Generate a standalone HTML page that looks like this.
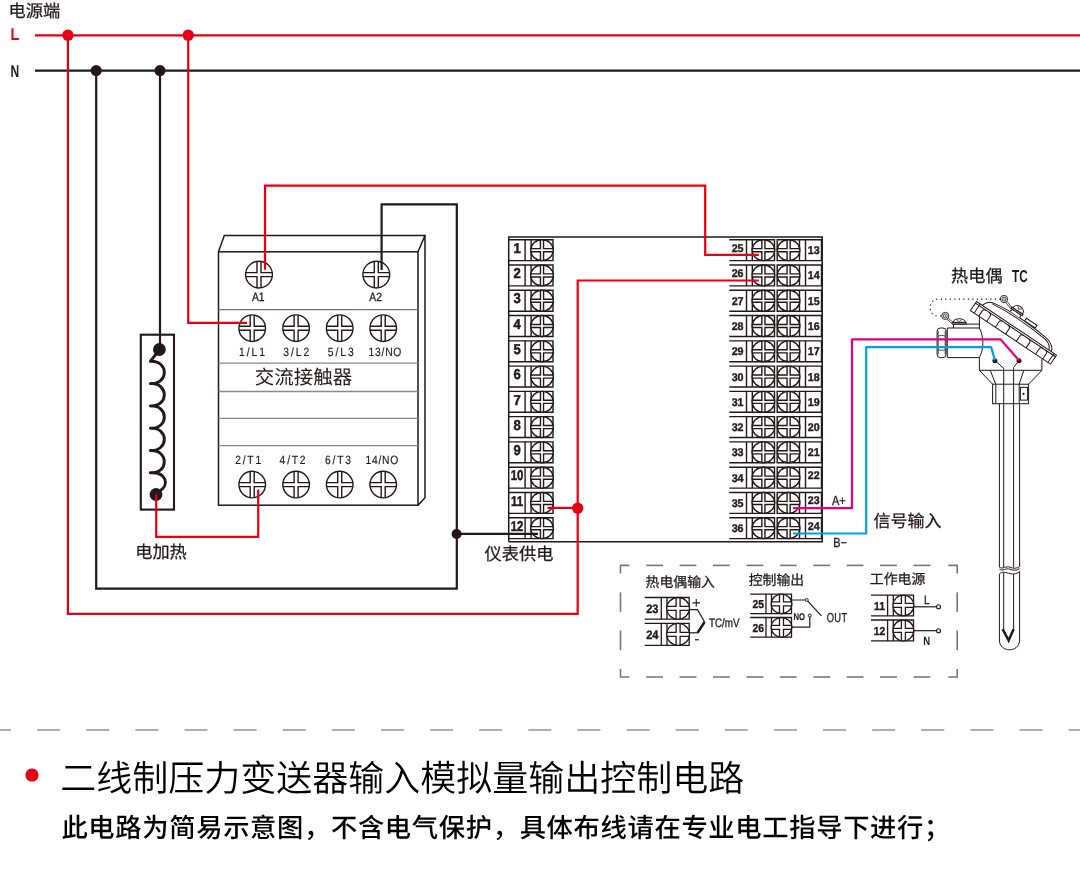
<!DOCTYPE html>
<html lang="zh-CN">
<head>
<meta charset="utf-8">
<title>二线制压力变送器输入模拟量输出控制电路</title>
<style>
html,body{margin:0;padding:0;background:#fff;}
body{width:1080px;height:869px;overflow:hidden;font-family:"Liberation Sans","Noto Sans CJK SC",sans-serif;}
svg{display:block;text-rendering:geometricPrecision;will-change:transform;}
</style>
</head>
<body>
<svg width="1080" height="869" viewBox="0 0 1080 869">
<rect width="1080" height="869" fill="#fff"/>
<path d="M218.5,251.8 L224.3,235.6 L425.0,235.6 L418.0,251.8 M425.0,235.6 L425.0,497.8 L418.0,505.2" stroke="#231815" stroke-width="1.5" fill="none" stroke-linejoin="miter"/>
<rect x="218.5" y="251.8" width="199.5" height="253.39999999999998" fill="none" stroke="#231815" stroke-width="1.5"/>
<line x1="218.5" y1="309.7" x2="418.0" y2="309.7" stroke="#7d7264" stroke-width="1.3" />
<line x1="218.5" y1="363.2" x2="418.0" y2="363.2" stroke="#898989" stroke-width="1.3" />
<line x1="218.5" y1="391.5" x2="418.0" y2="391.5" stroke="#898989" stroke-width="1.3" />
<line x1="218.5" y1="418.4" x2="418.0" y2="418.4" stroke="#898989" stroke-width="1.3" />
<line x1="218.5" y1="445.7" x2="418.0" y2="445.7" stroke="#898989" stroke-width="1.3" />
<ellipse cx="259.0" cy="274.6" rx="13.4" ry="13.4" fill="#fff" stroke="#231815" stroke-width="1.4"/>
<path d="M245.75,272.60 L257.00,272.60 L257.00,261.35 M245.75,276.60 L257.00,276.60 L257.00,287.85 M272.25,272.60 L261.00,272.60 L261.00,261.35 M272.25,276.60 L261.00,276.60 L261.00,287.85 " stroke="#231815" stroke-width="1.4" fill="none" />
<ellipse cx="376.3" cy="274.6" rx="13.4" ry="13.4" fill="#fff" stroke="#231815" stroke-width="1.4"/>
<path d="M363.05,272.60 L374.30,272.60 L374.30,261.35 M363.05,276.60 L374.30,276.60 L374.30,287.85 M389.55,272.60 L378.30,272.60 L378.30,261.35 M389.55,276.60 L378.30,276.60 L378.30,287.85 " stroke="#231815" stroke-width="1.4" fill="none" />
<ellipse cx="252.2" cy="328.2" rx="13.3" ry="13.3" fill="#fff" stroke="#231815" stroke-width="1.4"/>
<path d="M239.05,326.20 L250.20,326.20 L250.20,315.05 M239.05,330.20 L250.20,330.20 L250.20,341.35 M265.35,326.20 L254.20,326.20 L254.20,315.05 M265.35,330.20 L254.20,330.20 L254.20,341.35 " stroke="#231815" stroke-width="1.4" fill="none" />
<ellipse cx="252.2" cy="484.6" rx="13.3" ry="13.3" fill="#fff" stroke="#231815" stroke-width="1.4"/>
<path d="M239.05,482.60 L250.20,482.60 L250.20,471.45 M239.05,486.60 L250.20,486.60 L250.20,497.75 M265.35,482.60 L254.20,482.60 L254.20,471.45 M265.35,486.60 L254.20,486.60 L254.20,497.75 " stroke="#231815" stroke-width="1.4" fill="none" />
<ellipse cx="296.1" cy="328.2" rx="13.3" ry="13.3" fill="#fff" stroke="#231815" stroke-width="1.4"/>
<path d="M282.95,326.20 L294.10,326.20 L294.10,315.05 M282.95,330.20 L294.10,330.20 L294.10,341.35 M309.25,326.20 L298.10,326.20 L298.10,315.05 M309.25,330.20 L298.10,330.20 L298.10,341.35 " stroke="#231815" stroke-width="1.4" fill="none" />
<ellipse cx="296.1" cy="484.6" rx="13.3" ry="13.3" fill="#fff" stroke="#231815" stroke-width="1.4"/>
<path d="M282.95,482.60 L294.10,482.60 L294.10,471.45 M282.95,486.60 L294.10,486.60 L294.10,497.75 M309.25,482.60 L298.10,482.60 L298.10,471.45 M309.25,486.60 L298.10,486.60 L298.10,497.75 " stroke="#231815" stroke-width="1.4" fill="none" />
<ellipse cx="339.7" cy="328.2" rx="13.3" ry="13.3" fill="#fff" stroke="#231815" stroke-width="1.4"/>
<path d="M326.55,326.20 L337.70,326.20 L337.70,315.05 M326.55,330.20 L337.70,330.20 L337.70,341.35 M352.85,326.20 L341.70,326.20 L341.70,315.05 M352.85,330.20 L341.70,330.20 L341.70,341.35 " stroke="#231815" stroke-width="1.4" fill="none" />
<ellipse cx="339.7" cy="484.6" rx="13.3" ry="13.3" fill="#fff" stroke="#231815" stroke-width="1.4"/>
<path d="M326.55,482.60 L337.70,482.60 L337.70,471.45 M326.55,486.60 L337.70,486.60 L337.70,497.75 M352.85,482.60 L341.70,482.60 L341.70,471.45 M352.85,486.60 L341.70,486.60 L341.70,497.75 " stroke="#231815" stroke-width="1.4" fill="none" />
<ellipse cx="383.2" cy="328.2" rx="13.3" ry="13.3" fill="#fff" stroke="#231815" stroke-width="1.4"/>
<path d="M370.05,326.20 L381.20,326.20 L381.20,315.05 M370.05,330.20 L381.20,330.20 L381.20,341.35 M396.35,326.20 L385.20,326.20 L385.20,315.05 M396.35,330.20 L385.20,330.20 L385.20,341.35 " stroke="#231815" stroke-width="1.4" fill="none" />
<ellipse cx="383.2" cy="484.6" rx="13.3" ry="13.3" fill="#fff" stroke="#231815" stroke-width="1.4"/>
<path d="M370.05,482.60 L381.20,482.60 L381.20,471.45 M370.05,486.60 L381.20,486.60 L381.20,497.75 M396.35,482.60 L385.20,482.60 L385.20,471.45 M396.35,486.60 L385.20,486.60 L385.20,497.75 " stroke="#231815" stroke-width="1.4" fill="none" />
<text transform="translate(258.3,300.7) scale(0.86,1)" font-family='"Liberation Sans",sans-serif' font-size="12" font-weight="400" fill="#231815" text-anchor="middle" textLength="14.7" lengthAdjust="spacing" stroke="#231815" stroke-width="0.3">A1</text>
<text transform="translate(375.6,300.7) scale(0.86,1)" font-family='"Liberation Sans",sans-serif' font-size="12" font-weight="400" fill="#231815" text-anchor="middle" textLength="14.7" lengthAdjust="spacing" stroke="#231815" stroke-width="0.3">A2</text>
<text transform="translate(252.0,355.9) scale(0.86,1)" font-family='"Liberation Sans",sans-serif' font-size="12" font-weight="400" fill="#231815" text-anchor="middle" textLength="30.2" lengthAdjust="spacing" stroke="#231815" stroke-width="0.15">1/L1</text>
<text transform="translate(296.3,355.9) scale(0.86,1)" font-family='"Liberation Sans",sans-serif' font-size="12" font-weight="400" fill="#231815" text-anchor="middle" textLength="30.2" lengthAdjust="spacing" stroke="#231815" stroke-width="0.15">3/L2</text>
<text transform="translate(340.7,355.9) scale(0.86,1)" font-family='"Liberation Sans",sans-serif' font-size="12" font-weight="400" fill="#231815" text-anchor="middle" textLength="30.2" lengthAdjust="spacing" stroke="#231815" stroke-width="0.15">5/L3</text>
<text transform="translate(385.0,355.9) scale(0.86,1)" font-family='"Liberation Sans",sans-serif' font-size="12" font-weight="400" fill="#231815" text-anchor="middle" textLength="38.1" lengthAdjust="spacing" stroke="#231815" stroke-width="0.15">13/NO</text>
<text transform="translate(248.2,464.1) scale(0.86,1)" font-family='"Liberation Sans",sans-serif' font-size="12" font-weight="400" fill="#231815" text-anchor="middle" textLength="30.2" lengthAdjust="spacing" stroke="#231815" stroke-width="0.15">2/T1</text>
<text transform="translate(292.6,464.1) scale(0.86,1)" font-family='"Liberation Sans",sans-serif' font-size="12" font-weight="400" fill="#231815" text-anchor="middle" textLength="30.2" lengthAdjust="spacing" stroke="#231815" stroke-width="0.15">4/T2</text>
<text transform="translate(338.0,464.1) scale(0.86,1)" font-family='"Liberation Sans",sans-serif' font-size="12" font-weight="400" fill="#231815" text-anchor="middle" textLength="30.2" lengthAdjust="spacing" stroke="#231815" stroke-width="0.15">6/T3</text>
<text transform="translate(381.9,464.1) scale(0.86,1)" font-family='"Liberation Sans",sans-serif' font-size="12" font-weight="400" fill="#231815" text-anchor="middle" textLength="38.1" lengthAdjust="spacing" stroke="#231815" stroke-width="0.15">14/NO</text>
<text x="303.5" y="384.3" font-family='"Liberation Sans","Noto Sans CJK SC",sans-serif' font-size="19.5" font-weight="400" fill="#231815" text-anchor="middle" >交流接触器</text>
<rect x="140.8" y="334.7" width="33.2" height="174.9" fill="none" stroke="#231815" stroke-width="2.1"/>
<path d="M156.5,353.5 L150.3,361.3 C169,360.3 169,384.6 150.3,383.6 C169,382.6 169,406.9 150.3,405.9 C169,404.9 169,429.2 150.3,428.2 C169,427.2 169,451.5 150.3,450.5 C169,449.5 169,473.8 150.3,472.8 C167,472 169,485 160.5,490.5 L157,494" stroke="#231815" stroke-width="2.9" fill="none" stroke-linejoin="round" stroke-linecap="butt"/>
<circle cx="159.4" cy="349.5" r="6.4" fill="#231815" stroke="none" stroke-width="0"/>
<circle cx="156.0" cy="494.5" r="6.4" fill="#231815" stroke="none" stroke-width="0"/>
<path d="M508.7,541.8 L508.7,237.0 L822.2,237.0 L822.2,541.8 L508.7,541.8" stroke="#231815" stroke-width="1.5" fill="none" />
<path d="M508.7,239.75 L553,239.75 L553,260.65 L508.7,260.65 M525.1,239.75 L525.1,260.65 M531.1,239.75 L531.1,260.65" stroke="#231815" stroke-width="1.4" fill="none" />
<ellipse cx="542.0" cy="250.2" rx="11.3" ry="10.45" fill="#fff" stroke="#231815" stroke-width="1.4"/>
<path d="M530.82,248.65 L540.45,248.65 L540.45,239.85 M530.82,251.75 L540.45,251.75 L540.45,260.55 M553.18,248.65 L543.55,248.65 L543.55,239.85 M553.18,251.75 L543.55,251.75 L543.55,260.55 " stroke="#231815" stroke-width="1.4" fill="none" />
<text transform="translate(517.0,252.89999999999998) scale(0.92,1)" font-family='"Liberation Sans",sans-serif' font-size="14.2" font-weight="700" fill="#231815" text-anchor="middle" stroke="#231815" stroke-width="0.5">1</text>
<path d="M729.3,239.75 L774.5,239.75 L774.5,260.65 L729.3,260.65 M746.5,239.75 L746.5,260.65 M752.3,239.75 L752.3,260.65" stroke="#231815" stroke-width="1.4" fill="none" />
<ellipse cx="763.4" cy="250.2" rx="11.3" ry="10.45" fill="#fff" stroke="#231815" stroke-width="1.4"/>
<path d="M752.22,248.65 L761.85,248.65 L761.85,239.85 M752.22,251.75 L761.85,251.75 L761.85,260.55 M774.58,248.65 L764.95,248.65 L764.95,239.85 M774.58,251.75 L764.95,251.75 L764.95,260.55 " stroke="#231815" stroke-width="1.4" fill="none" />
<path d="M777.2,239.75 L821.5,239.75 L821.5,260.65 L777.2,260.65 Z M799.5,239.75 L799.5,260.65 M805.5,239.75 L805.5,260.65" stroke="#231815" stroke-width="1.4" fill="none" />
<ellipse cx="788.6" cy="250.2" rx="11.3" ry="10.45" fill="#fff" stroke="#231815" stroke-width="1.4"/>
<path d="M777.42,248.65 L787.05,248.65 L787.05,239.85 M777.42,251.75 L787.05,251.75 L787.05,260.55 M799.78,248.65 L790.15,248.65 L790.15,239.85 M799.78,251.75 L790.15,251.75 L790.15,260.55 " stroke="#231815" stroke-width="1.4" fill="none" />
<text transform="translate(737.6,251.79999999999998) scale(0.96,1)" font-family='"Liberation Sans",sans-serif' font-size="11.2" font-weight="700" fill="#231815" text-anchor="middle" stroke="#231815" stroke-width="0.35">25</text>
<text transform="translate(813.8,254.2) scale(0.96,1)" font-family='"Liberation Sans",sans-serif' font-size="11.2" font-weight="700" fill="#231815" text-anchor="middle" stroke="#231815" stroke-width="0.35">13</text>
<path d="M508.7,265.02 L553,265.02 L553,285.91999999999996 L508.7,285.91999999999996 M525.1,265.02 L525.1,285.91999999999996 M531.1,265.02 L531.1,285.91999999999996" stroke="#231815" stroke-width="1.4" fill="none" />
<ellipse cx="542.0" cy="275.46999999999997" rx="11.3" ry="10.45" fill="#fff" stroke="#231815" stroke-width="1.4"/>
<path d="M530.82,273.92 L540.45,273.92 L540.45,265.12 M530.82,277.02 L540.45,277.02 L540.45,285.82 M553.18,273.92 L543.55,273.92 L543.55,265.12 M553.18,277.02 L543.55,277.02 L543.55,285.82 " stroke="#231815" stroke-width="1.4" fill="none" />
<text transform="translate(517.0,278.16999999999996) scale(0.92,1)" font-family='"Liberation Sans",sans-serif' font-size="14.2" font-weight="700" fill="#231815" text-anchor="middle" stroke="#231815" stroke-width="0.5">2</text>
<path d="M729.3,265.02 L774.5,265.02 L774.5,285.91999999999996 L729.3,285.91999999999996 M746.5,265.02 L746.5,285.91999999999996 M752.3,265.02 L752.3,285.91999999999996" stroke="#231815" stroke-width="1.4" fill="none" />
<ellipse cx="763.4" cy="275.46999999999997" rx="11.3" ry="10.45" fill="#fff" stroke="#231815" stroke-width="1.4"/>
<path d="M752.22,273.92 L761.85,273.92 L761.85,265.12 M752.22,277.02 L761.85,277.02 L761.85,285.82 M774.58,273.92 L764.95,273.92 L764.95,265.12 M774.58,277.02 L764.95,277.02 L764.95,285.82 " stroke="#231815" stroke-width="1.4" fill="none" />
<path d="M777.2,265.02 L821.5,265.02 L821.5,285.91999999999996 L777.2,285.91999999999996 Z M799.5,265.02 L799.5,285.91999999999996 M805.5,265.02 L805.5,285.91999999999996" stroke="#231815" stroke-width="1.4" fill="none" />
<ellipse cx="788.6" cy="275.46999999999997" rx="11.3" ry="10.45" fill="#fff" stroke="#231815" stroke-width="1.4"/>
<path d="M777.42,273.92 L787.05,273.92 L787.05,265.12 M777.42,277.02 L787.05,277.02 L787.05,285.82 M799.78,273.92 L790.15,273.92 L790.15,265.12 M799.78,277.02 L790.15,277.02 L790.15,285.82 " stroke="#231815" stroke-width="1.4" fill="none" />
<text transform="translate(737.6,277.07) scale(0.96,1)" font-family='"Liberation Sans",sans-serif' font-size="11.2" font-weight="700" fill="#231815" text-anchor="middle" stroke="#231815" stroke-width="0.35">26</text>
<text transform="translate(813.8,279.46999999999997) scale(0.96,1)" font-family='"Liberation Sans",sans-serif' font-size="11.2" font-weight="700" fill="#231815" text-anchor="middle" stroke="#231815" stroke-width="0.35">14</text>
<path d="M508.7,290.29 L553,290.29 L553,311.19 L508.7,311.19 M525.1,290.29 L525.1,311.19 M531.1,290.29 L531.1,311.19" stroke="#231815" stroke-width="1.4" fill="none" />
<ellipse cx="542.0" cy="300.74" rx="11.3" ry="10.45" fill="#fff" stroke="#231815" stroke-width="1.4"/>
<path d="M530.82,299.19 L540.45,299.19 L540.45,290.39 M530.82,302.29 L540.45,302.29 L540.45,311.09 M553.18,299.19 L543.55,299.19 L543.55,290.39 M553.18,302.29 L543.55,302.29 L543.55,311.09 " stroke="#231815" stroke-width="1.4" fill="none" />
<text transform="translate(517.0,303.44) scale(0.92,1)" font-family='"Liberation Sans",sans-serif' font-size="14.2" font-weight="700" fill="#231815" text-anchor="middle" stroke="#231815" stroke-width="0.5">3</text>
<path d="M729.3,290.29 L774.5,290.29 L774.5,311.19 L729.3,311.19 M746.5,290.29 L746.5,311.19 M752.3,290.29 L752.3,311.19" stroke="#231815" stroke-width="1.4" fill="none" />
<ellipse cx="763.4" cy="300.74" rx="11.3" ry="10.45" fill="#fff" stroke="#231815" stroke-width="1.4"/>
<path d="M752.22,299.19 L761.85,299.19 L761.85,290.39 M752.22,302.29 L761.85,302.29 L761.85,311.09 M774.58,299.19 L764.95,299.19 L764.95,290.39 M774.58,302.29 L764.95,302.29 L764.95,311.09 " stroke="#231815" stroke-width="1.4" fill="none" />
<path d="M777.2,290.29 L821.5,290.29 L821.5,311.19 L777.2,311.19 Z M799.5,290.29 L799.5,311.19 M805.5,290.29 L805.5,311.19" stroke="#231815" stroke-width="1.4" fill="none" />
<ellipse cx="788.6" cy="300.74" rx="11.3" ry="10.45" fill="#fff" stroke="#231815" stroke-width="1.4"/>
<path d="M777.42,299.19 L787.05,299.19 L787.05,290.39 M777.42,302.29 L787.05,302.29 L787.05,311.09 M799.78,299.19 L790.15,299.19 L790.15,290.39 M799.78,302.29 L790.15,302.29 L790.15,311.09 " stroke="#231815" stroke-width="1.4" fill="none" />
<text transform="translate(737.6,304.74) scale(0.96,1)" font-family='"Liberation Sans",sans-serif' font-size="11.2" font-weight="700" fill="#231815" text-anchor="middle" stroke="#231815" stroke-width="0.35">27</text>
<text transform="translate(813.8,304.74) scale(0.96,1)" font-family='"Liberation Sans",sans-serif' font-size="11.2" font-weight="700" fill="#231815" text-anchor="middle" stroke="#231815" stroke-width="0.35">15</text>
<path d="M508.7,315.56 L553,315.56 L553,336.46 L508.7,336.46 M525.1,315.56 L525.1,336.46 M531.1,315.56 L531.1,336.46" stroke="#231815" stroke-width="1.4" fill="none" />
<ellipse cx="542.0" cy="326.01" rx="11.3" ry="10.45" fill="#fff" stroke="#231815" stroke-width="1.4"/>
<path d="M530.82,324.46 L540.45,324.46 L540.45,315.66 M530.82,327.56 L540.45,327.56 L540.45,336.36 M553.18,324.46 L543.55,324.46 L543.55,315.66 M553.18,327.56 L543.55,327.56 L543.55,336.36 " stroke="#231815" stroke-width="1.4" fill="none" />
<text transform="translate(517.0,328.71) scale(0.92,1)" font-family='"Liberation Sans",sans-serif' font-size="14.2" font-weight="700" fill="#231815" text-anchor="middle" stroke="#231815" stroke-width="0.5">4</text>
<path d="M729.3,315.56 L774.5,315.56 L774.5,336.46 L729.3,336.46 M746.5,315.56 L746.5,336.46 M752.3,315.56 L752.3,336.46" stroke="#231815" stroke-width="1.4" fill="none" />
<ellipse cx="763.4" cy="326.01" rx="11.3" ry="10.45" fill="#fff" stroke="#231815" stroke-width="1.4"/>
<path d="M752.22,324.46 L761.85,324.46 L761.85,315.66 M752.22,327.56 L761.85,327.56 L761.85,336.36 M774.58,324.46 L764.95,324.46 L764.95,315.66 M774.58,327.56 L764.95,327.56 L764.95,336.36 " stroke="#231815" stroke-width="1.4" fill="none" />
<path d="M777.2,315.56 L821.5,315.56 L821.5,336.46 L777.2,336.46 Z M799.5,315.56 L799.5,336.46 M805.5,315.56 L805.5,336.46" stroke="#231815" stroke-width="1.4" fill="none" />
<ellipse cx="788.6" cy="326.01" rx="11.3" ry="10.45" fill="#fff" stroke="#231815" stroke-width="1.4"/>
<path d="M777.42,324.46 L787.05,324.46 L787.05,315.66 M777.42,327.56 L787.05,327.56 L787.05,336.36 M799.78,324.46 L790.15,324.46 L790.15,315.66 M799.78,327.56 L790.15,327.56 L790.15,336.36 " stroke="#231815" stroke-width="1.4" fill="none" />
<text transform="translate(737.6,330.01) scale(0.96,1)" font-family='"Liberation Sans",sans-serif' font-size="11.2" font-weight="700" fill="#231815" text-anchor="middle" stroke="#231815" stroke-width="0.35">28</text>
<text transform="translate(813.8,330.01) scale(0.96,1)" font-family='"Liberation Sans",sans-serif' font-size="11.2" font-weight="700" fill="#231815" text-anchor="middle" stroke="#231815" stroke-width="0.35">16</text>
<path d="M508.7,340.83 L553,340.83 L553,361.72999999999996 L508.7,361.72999999999996 M525.1,340.83 L525.1,361.72999999999996 M531.1,340.83 L531.1,361.72999999999996" stroke="#231815" stroke-width="1.4" fill="none" />
<ellipse cx="542.0" cy="351.28" rx="11.3" ry="10.45" fill="#fff" stroke="#231815" stroke-width="1.4"/>
<path d="M530.82,349.73 L540.45,349.73 L540.45,340.93 M530.82,352.83 L540.45,352.83 L540.45,361.63 M553.18,349.73 L543.55,349.73 L543.55,340.93 M553.18,352.83 L543.55,352.83 L543.55,361.63 " stroke="#231815" stroke-width="1.4" fill="none" />
<text transform="translate(517.0,353.97999999999996) scale(0.92,1)" font-family='"Liberation Sans",sans-serif' font-size="14.2" font-weight="700" fill="#231815" text-anchor="middle" stroke="#231815" stroke-width="0.5">5</text>
<path d="M729.3,340.83 L774.5,340.83 L774.5,361.72999999999996 L729.3,361.72999999999996 M746.5,340.83 L746.5,361.72999999999996 M752.3,340.83 L752.3,361.72999999999996" stroke="#231815" stroke-width="1.4" fill="none" />
<ellipse cx="763.4" cy="351.28" rx="11.3" ry="10.45" fill="#fff" stroke="#231815" stroke-width="1.4"/>
<path d="M752.22,349.73 L761.85,349.73 L761.85,340.93 M752.22,352.83 L761.85,352.83 L761.85,361.63 M774.58,349.73 L764.95,349.73 L764.95,340.93 M774.58,352.83 L764.95,352.83 L764.95,361.63 " stroke="#231815" stroke-width="1.4" fill="none" />
<path d="M777.2,340.83 L821.5,340.83 L821.5,361.72999999999996 L777.2,361.72999999999996 Z M799.5,340.83 L799.5,361.72999999999996 M805.5,340.83 L805.5,361.72999999999996" stroke="#231815" stroke-width="1.4" fill="none" />
<ellipse cx="788.6" cy="351.28" rx="11.3" ry="10.45" fill="#fff" stroke="#231815" stroke-width="1.4"/>
<path d="M777.42,349.73 L787.05,349.73 L787.05,340.93 M777.42,352.83 L787.05,352.83 L787.05,361.63 M799.78,349.73 L790.15,349.73 L790.15,340.93 M799.78,352.83 L790.15,352.83 L790.15,361.63 " stroke="#231815" stroke-width="1.4" fill="none" />
<text transform="translate(737.6,355.28) scale(0.96,1)" font-family='"Liberation Sans",sans-serif' font-size="11.2" font-weight="700" fill="#231815" text-anchor="middle" stroke="#231815" stroke-width="0.35">29</text>
<text transform="translate(813.8,355.28) scale(0.96,1)" font-family='"Liberation Sans",sans-serif' font-size="11.2" font-weight="700" fill="#231815" text-anchor="middle" stroke="#231815" stroke-width="0.35">17</text>
<path d="M508.7,366.1 L553,366.1 L553,387.0 L508.7,387.0 M525.1,366.1 L525.1,387.0 M531.1,366.1 L531.1,387.0" stroke="#231815" stroke-width="1.4" fill="none" />
<ellipse cx="542.0" cy="376.55" rx="11.3" ry="10.45" fill="#fff" stroke="#231815" stroke-width="1.4"/>
<path d="M530.82,375.00 L540.45,375.00 L540.45,366.20 M530.82,378.10 L540.45,378.10 L540.45,386.90 M553.18,375.00 L543.55,375.00 L543.55,366.20 M553.18,378.10 L543.55,378.10 L543.55,386.90 " stroke="#231815" stroke-width="1.4" fill="none" />
<text transform="translate(517.0,379.25) scale(0.92,1)" font-family='"Liberation Sans",sans-serif' font-size="14.2" font-weight="700" fill="#231815" text-anchor="middle" stroke="#231815" stroke-width="0.5">6</text>
<path d="M729.3,366.1 L774.5,366.1 L774.5,387.0 L729.3,387.0 M746.5,366.1 L746.5,387.0 M752.3,366.1 L752.3,387.0" stroke="#231815" stroke-width="1.4" fill="none" />
<ellipse cx="763.4" cy="376.55" rx="11.3" ry="10.45" fill="#fff" stroke="#231815" stroke-width="1.4"/>
<path d="M752.22,375.00 L761.85,375.00 L761.85,366.20 M752.22,378.10 L761.85,378.10 L761.85,386.90 M774.58,375.00 L764.95,375.00 L764.95,366.20 M774.58,378.10 L764.95,378.10 L764.95,386.90 " stroke="#231815" stroke-width="1.4" fill="none" />
<path d="M777.2,366.1 L821.5,366.1 L821.5,387.0 L777.2,387.0 Z M799.5,366.1 L799.5,387.0 M805.5,366.1 L805.5,387.0" stroke="#231815" stroke-width="1.4" fill="none" />
<ellipse cx="788.6" cy="376.55" rx="11.3" ry="10.45" fill="#fff" stroke="#231815" stroke-width="1.4"/>
<path d="M777.42,375.00 L787.05,375.00 L787.05,366.20 M777.42,378.10 L787.05,378.10 L787.05,386.90 M799.78,375.00 L790.15,375.00 L790.15,366.20 M799.78,378.10 L790.15,378.10 L790.15,386.90 " stroke="#231815" stroke-width="1.4" fill="none" />
<text transform="translate(737.6,380.55) scale(0.96,1)" font-family='"Liberation Sans",sans-serif' font-size="11.2" font-weight="700" fill="#231815" text-anchor="middle" stroke="#231815" stroke-width="0.35">30</text>
<text transform="translate(813.8,380.55) scale(0.96,1)" font-family='"Liberation Sans",sans-serif' font-size="11.2" font-weight="700" fill="#231815" text-anchor="middle" stroke="#231815" stroke-width="0.35">18</text>
<path d="M508.7,391.37 L553,391.37 L553,412.27 L508.7,412.27 M525.1,391.37 L525.1,412.27 M531.1,391.37 L531.1,412.27" stroke="#231815" stroke-width="1.4" fill="none" />
<ellipse cx="542.0" cy="401.82" rx="11.3" ry="10.45" fill="#fff" stroke="#231815" stroke-width="1.4"/>
<path d="M530.82,400.27 L540.45,400.27 L540.45,391.47 M530.82,403.37 L540.45,403.37 L540.45,412.17 M553.18,400.27 L543.55,400.27 L543.55,391.47 M553.18,403.37 L543.55,403.37 L543.55,412.17 " stroke="#231815" stroke-width="1.4" fill="none" />
<text transform="translate(517.0,404.52) scale(0.92,1)" font-family='"Liberation Sans",sans-serif' font-size="14.2" font-weight="700" fill="#231815" text-anchor="middle" stroke="#231815" stroke-width="0.5">7</text>
<path d="M729.3,391.37 L774.5,391.37 L774.5,412.27 L729.3,412.27 M746.5,391.37 L746.5,412.27 M752.3,391.37 L752.3,412.27" stroke="#231815" stroke-width="1.4" fill="none" />
<ellipse cx="763.4" cy="401.82" rx="11.3" ry="10.45" fill="#fff" stroke="#231815" stroke-width="1.4"/>
<path d="M752.22,400.27 L761.85,400.27 L761.85,391.47 M752.22,403.37 L761.85,403.37 L761.85,412.17 M774.58,400.27 L764.95,400.27 L764.95,391.47 M774.58,403.37 L764.95,403.37 L764.95,412.17 " stroke="#231815" stroke-width="1.4" fill="none" />
<path d="M777.2,391.37 L821.5,391.37 L821.5,412.27 L777.2,412.27 Z M799.5,391.37 L799.5,412.27 M805.5,391.37 L805.5,412.27" stroke="#231815" stroke-width="1.4" fill="none" />
<ellipse cx="788.6" cy="401.82" rx="11.3" ry="10.45" fill="#fff" stroke="#231815" stroke-width="1.4"/>
<path d="M777.42,400.27 L787.05,400.27 L787.05,391.47 M777.42,403.37 L787.05,403.37 L787.05,412.17 M799.78,400.27 L790.15,400.27 L790.15,391.47 M799.78,403.37 L790.15,403.37 L790.15,412.17 " stroke="#231815" stroke-width="1.4" fill="none" />
<text transform="translate(737.6,405.82) scale(0.96,1)" font-family='"Liberation Sans",sans-serif' font-size="11.2" font-weight="700" fill="#231815" text-anchor="middle" stroke="#231815" stroke-width="0.35">31</text>
<text transform="translate(813.8,405.82) scale(0.96,1)" font-family='"Liberation Sans",sans-serif' font-size="11.2" font-weight="700" fill="#231815" text-anchor="middle" stroke="#231815" stroke-width="0.35">19</text>
<path d="M508.7,416.64 L553,416.64 L553,437.53999999999996 L508.7,437.53999999999996 M525.1,416.64 L525.1,437.53999999999996 M531.1,416.64 L531.1,437.53999999999996" stroke="#231815" stroke-width="1.4" fill="none" />
<ellipse cx="542.0" cy="427.09" rx="11.3" ry="10.45" fill="#fff" stroke="#231815" stroke-width="1.4"/>
<path d="M530.82,425.54 L540.45,425.54 L540.45,416.74 M530.82,428.64 L540.45,428.64 L540.45,437.44 M553.18,425.54 L543.55,425.54 L543.55,416.74 M553.18,428.64 L543.55,428.64 L543.55,437.44 " stroke="#231815" stroke-width="1.4" fill="none" />
<text transform="translate(517.0,429.78999999999996) scale(0.92,1)" font-family='"Liberation Sans",sans-serif' font-size="14.2" font-weight="700" fill="#231815" text-anchor="middle" stroke="#231815" stroke-width="0.5">8</text>
<path d="M729.3,416.64 L774.5,416.64 L774.5,437.53999999999996 L729.3,437.53999999999996 M746.5,416.64 L746.5,437.53999999999996 M752.3,416.64 L752.3,437.53999999999996" stroke="#231815" stroke-width="1.4" fill="none" />
<ellipse cx="763.4" cy="427.09" rx="11.3" ry="10.45" fill="#fff" stroke="#231815" stroke-width="1.4"/>
<path d="M752.22,425.54 L761.85,425.54 L761.85,416.74 M752.22,428.64 L761.85,428.64 L761.85,437.44 M774.58,425.54 L764.95,425.54 L764.95,416.74 M774.58,428.64 L764.95,428.64 L764.95,437.44 " stroke="#231815" stroke-width="1.4" fill="none" />
<path d="M777.2,416.64 L821.5,416.64 L821.5,437.53999999999996 L777.2,437.53999999999996 Z M799.5,416.64 L799.5,437.53999999999996 M805.5,416.64 L805.5,437.53999999999996" stroke="#231815" stroke-width="1.4" fill="none" />
<ellipse cx="788.6" cy="427.09" rx="11.3" ry="10.45" fill="#fff" stroke="#231815" stroke-width="1.4"/>
<path d="M777.42,425.54 L787.05,425.54 L787.05,416.74 M777.42,428.64 L787.05,428.64 L787.05,437.44 M799.78,425.54 L790.15,425.54 L790.15,416.74 M799.78,428.64 L790.15,428.64 L790.15,437.44 " stroke="#231815" stroke-width="1.4" fill="none" />
<text transform="translate(737.6,431.09) scale(0.96,1)" font-family='"Liberation Sans",sans-serif' font-size="11.2" font-weight="700" fill="#231815" text-anchor="middle" stroke="#231815" stroke-width="0.35">32</text>
<text transform="translate(813.8,431.09) scale(0.96,1)" font-family='"Liberation Sans",sans-serif' font-size="11.2" font-weight="700" fill="#231815" text-anchor="middle" stroke="#231815" stroke-width="0.35">20</text>
<path d="M508.7,441.90999999999997 L553,441.90999999999997 L553,462.80999999999995 L508.7,462.80999999999995 M525.1,441.90999999999997 L525.1,462.80999999999995 M531.1,441.90999999999997 L531.1,462.80999999999995" stroke="#231815" stroke-width="1.4" fill="none" />
<ellipse cx="542.0" cy="452.35999999999996" rx="11.3" ry="10.45" fill="#fff" stroke="#231815" stroke-width="1.4"/>
<path d="M530.82,450.81 L540.45,450.81 L540.45,442.01 M530.82,453.91 L540.45,453.91 L540.45,462.71 M553.18,450.81 L543.55,450.81 L543.55,442.01 M553.18,453.91 L543.55,453.91 L543.55,462.71 " stroke="#231815" stroke-width="1.4" fill="none" />
<text transform="translate(517.0,455.05999999999995) scale(0.92,1)" font-family='"Liberation Sans",sans-serif' font-size="14.2" font-weight="700" fill="#231815" text-anchor="middle" stroke="#231815" stroke-width="0.5">9</text>
<path d="M729.3,441.90999999999997 L774.5,441.90999999999997 L774.5,462.80999999999995 L729.3,462.80999999999995 M746.5,441.90999999999997 L746.5,462.80999999999995 M752.3,441.90999999999997 L752.3,462.80999999999995" stroke="#231815" stroke-width="1.4" fill="none" />
<ellipse cx="763.4" cy="452.35999999999996" rx="11.3" ry="10.45" fill="#fff" stroke="#231815" stroke-width="1.4"/>
<path d="M752.22,450.81 L761.85,450.81 L761.85,442.01 M752.22,453.91 L761.85,453.91 L761.85,462.71 M774.58,450.81 L764.95,450.81 L764.95,442.01 M774.58,453.91 L764.95,453.91 L764.95,462.71 " stroke="#231815" stroke-width="1.4" fill="none" />
<path d="M777.2,441.90999999999997 L821.5,441.90999999999997 L821.5,462.80999999999995 L777.2,462.80999999999995 Z M799.5,441.90999999999997 L799.5,462.80999999999995 M805.5,441.90999999999997 L805.5,462.80999999999995" stroke="#231815" stroke-width="1.4" fill="none" />
<ellipse cx="788.6" cy="452.35999999999996" rx="11.3" ry="10.45" fill="#fff" stroke="#231815" stroke-width="1.4"/>
<path d="M777.42,450.81 L787.05,450.81 L787.05,442.01 M777.42,453.91 L787.05,453.91 L787.05,462.71 M799.78,450.81 L790.15,450.81 L790.15,442.01 M799.78,453.91 L790.15,453.91 L790.15,462.71 " stroke="#231815" stroke-width="1.4" fill="none" />
<text transform="translate(737.6,456.35999999999996) scale(0.96,1)" font-family='"Liberation Sans",sans-serif' font-size="11.2" font-weight="700" fill="#231815" text-anchor="middle" stroke="#231815" stroke-width="0.35">33</text>
<text transform="translate(813.8,456.35999999999996) scale(0.96,1)" font-family='"Liberation Sans",sans-serif' font-size="11.2" font-weight="700" fill="#231815" text-anchor="middle" stroke="#231815" stroke-width="0.35">21</text>
<path d="M508.7,467.18 L553,467.18 L553,488.08 L508.7,488.08 M525.1,467.18 L525.1,488.08 M531.1,467.18 L531.1,488.08" stroke="#231815" stroke-width="1.4" fill="none" />
<ellipse cx="542.0" cy="477.63" rx="11.3" ry="10.45" fill="#fff" stroke="#231815" stroke-width="1.4"/>
<path d="M530.82,476.08 L540.45,476.08 L540.45,467.28 M530.82,479.18 L540.45,479.18 L540.45,487.98 M553.18,476.08 L543.55,476.08 L543.55,467.28 M553.18,479.18 L543.55,479.18 L543.55,487.98 " stroke="#231815" stroke-width="1.4" fill="none" />
<text transform="translate(517.0,480.33) scale(0.8,1)" font-family='"Liberation Sans",sans-serif' font-size="14.2" font-weight="700" fill="#231815" text-anchor="middle" stroke="#231815" stroke-width="0.5">10</text>
<path d="M729.3,467.18 L774.5,467.18 L774.5,488.08 L729.3,488.08 M746.5,467.18 L746.5,488.08 M752.3,467.18 L752.3,488.08" stroke="#231815" stroke-width="1.4" fill="none" />
<ellipse cx="763.4" cy="477.63" rx="11.3" ry="10.45" fill="#fff" stroke="#231815" stroke-width="1.4"/>
<path d="M752.22,476.08 L761.85,476.08 L761.85,467.28 M752.22,479.18 L761.85,479.18 L761.85,487.98 M774.58,476.08 L764.95,476.08 L764.95,467.28 M774.58,479.18 L764.95,479.18 L764.95,487.98 " stroke="#231815" stroke-width="1.4" fill="none" />
<path d="M777.2,467.18 L821.5,467.18 L821.5,488.08 L777.2,488.08 Z M799.5,467.18 L799.5,488.08 M805.5,467.18 L805.5,488.08" stroke="#231815" stroke-width="1.4" fill="none" />
<ellipse cx="788.6" cy="477.63" rx="11.3" ry="10.45" fill="#fff" stroke="#231815" stroke-width="1.4"/>
<path d="M777.42,476.08 L787.05,476.08 L787.05,467.28 M777.42,479.18 L787.05,479.18 L787.05,487.98 M799.78,476.08 L790.15,476.08 L790.15,467.28 M799.78,479.18 L790.15,479.18 L790.15,487.98 " stroke="#231815" stroke-width="1.4" fill="none" />
<text transform="translate(737.6,481.63) scale(0.96,1)" font-family='"Liberation Sans",sans-serif' font-size="11.2" font-weight="700" fill="#231815" text-anchor="middle" stroke="#231815" stroke-width="0.35">34</text>
<text transform="translate(813.8,479.13) scale(0.96,1)" font-family='"Liberation Sans",sans-serif' font-size="11.2" font-weight="700" fill="#231815" text-anchor="middle" stroke="#231815" stroke-width="0.35">22</text>
<path d="M508.7,492.45 L553,492.45 L553,513.35 L508.7,513.35 M525.1,492.45 L525.1,513.35 M531.1,492.45 L531.1,513.35" stroke="#231815" stroke-width="1.4" fill="none" />
<ellipse cx="542.0" cy="502.9" rx="11.3" ry="10.45" fill="#fff" stroke="#231815" stroke-width="1.4"/>
<path d="M530.82,501.35 L540.45,501.35 L540.45,492.55 M530.82,504.45 L540.45,504.45 L540.45,513.25 M553.18,501.35 L543.55,501.35 L543.55,492.55 M553.18,504.45 L543.55,504.45 L543.55,513.25 " stroke="#231815" stroke-width="1.4" fill="none" />
<text transform="translate(517.0,505.59999999999997) scale(0.8,1)" font-family='"Liberation Sans",sans-serif' font-size="14.2" font-weight="700" fill="#231815" text-anchor="middle" stroke="#231815" stroke-width="0.5">11</text>
<path d="M729.3,492.45 L774.5,492.45 L774.5,513.35 L729.3,513.35 M746.5,492.45 L746.5,513.35 M752.3,492.45 L752.3,513.35" stroke="#231815" stroke-width="1.4" fill="none" />
<ellipse cx="763.4" cy="502.9" rx="11.3" ry="10.45" fill="#fff" stroke="#231815" stroke-width="1.4"/>
<path d="M752.22,501.35 L761.85,501.35 L761.85,492.55 M752.22,504.45 L761.85,504.45 L761.85,513.25 M774.58,501.35 L764.95,501.35 L764.95,492.55 M774.58,504.45 L764.95,504.45 L764.95,513.25 " stroke="#231815" stroke-width="1.4" fill="none" />
<path d="M777.2,492.45 L821.5,492.45 L821.5,513.35 L777.2,513.35 Z M799.5,492.45 L799.5,513.35 M805.5,492.45 L805.5,513.35" stroke="#231815" stroke-width="1.4" fill="none" />
<ellipse cx="788.6" cy="502.9" rx="11.3" ry="10.45" fill="#fff" stroke="#231815" stroke-width="1.4"/>
<path d="M777.42,501.35 L787.05,501.35 L787.05,492.55 M777.42,504.45 L787.05,504.45 L787.05,513.25 M799.78,501.35 L790.15,501.35 L790.15,492.55 M799.78,504.45 L790.15,504.45 L790.15,513.25 " stroke="#231815" stroke-width="1.4" fill="none" />
<text transform="translate(737.6,506.9) scale(0.96,1)" font-family='"Liberation Sans",sans-serif' font-size="11.2" font-weight="700" fill="#231815" text-anchor="middle" stroke="#231815" stroke-width="0.35">35</text>
<text transform="translate(813.8,504.4) scale(0.96,1)" font-family='"Liberation Sans",sans-serif' font-size="11.2" font-weight="700" fill="#231815" text-anchor="middle" stroke="#231815" stroke-width="0.35">23</text>
<path d="M508.7,517.72 L553,517.72 L553,538.62 L508.7,538.62 M525.1,517.72 L525.1,538.62 M531.1,517.72 L531.1,538.62" stroke="#231815" stroke-width="1.4" fill="none" />
<ellipse cx="542.0" cy="528.1700000000001" rx="11.3" ry="10.45" fill="#fff" stroke="#231815" stroke-width="1.4"/>
<path d="M530.82,526.62 L540.45,526.62 L540.45,517.82 M530.82,529.72 L540.45,529.72 L540.45,538.52 M553.18,526.62 L543.55,526.62 L543.55,517.82 M553.18,529.72 L543.55,529.72 L543.55,538.52 " stroke="#231815" stroke-width="1.4" fill="none" />
<text transform="translate(517.0,530.8700000000001) scale(0.8,1)" font-family='"Liberation Sans",sans-serif' font-size="14.2" font-weight="700" fill="#231815" text-anchor="middle" stroke="#231815" stroke-width="0.5">12</text>
<path d="M729.3,517.72 L774.5,517.72 L774.5,538.62 L729.3,538.62 M746.5,517.72 L746.5,538.62 M752.3,517.72 L752.3,538.62" stroke="#231815" stroke-width="1.4" fill="none" />
<ellipse cx="763.4" cy="528.1700000000001" rx="11.3" ry="10.45" fill="#fff" stroke="#231815" stroke-width="1.4"/>
<path d="M752.22,526.62 L761.85,526.62 L761.85,517.82 M752.22,529.72 L761.85,529.72 L761.85,538.52 M774.58,526.62 L764.95,526.62 L764.95,517.82 M774.58,529.72 L764.95,529.72 L764.95,538.52 " stroke="#231815" stroke-width="1.4" fill="none" />
<path d="M777.2,517.72 L821.5,517.72 L821.5,538.62 L777.2,538.62 Z M799.5,517.72 L799.5,538.62 M805.5,517.72 L805.5,538.62" stroke="#231815" stroke-width="1.4" fill="none" />
<ellipse cx="788.6" cy="528.1700000000001" rx="11.3" ry="10.45" fill="#fff" stroke="#231815" stroke-width="1.4"/>
<path d="M777.42,526.62 L787.05,526.62 L787.05,517.82 M777.42,529.72 L787.05,529.72 L787.05,538.52 M799.78,526.62 L790.15,526.62 L790.15,517.82 M799.78,529.72 L790.15,529.72 L790.15,538.52 " stroke="#231815" stroke-width="1.4" fill="none" />
<text transform="translate(737.6,532.1700000000001) scale(0.96,1)" font-family='"Liberation Sans",sans-serif' font-size="11.2" font-weight="700" fill="#231815" text-anchor="middle" stroke="#231815" stroke-width="0.35">36</text>
<text transform="translate(813.8,529.6700000000001) scale(0.96,1)" font-family='"Liberation Sans",sans-serif' font-size="11.2" font-weight="700" fill="#231815" text-anchor="middle" stroke="#231815" stroke-width="0.35">24</text>
<path d="M1000.5,299.1 L939,299.1 C933,299.1 930.2,303 930.2,307.7 C930.2,312.5 933,315.9 938.5,315.9 L941.3,315.9" stroke="#231815" stroke-width="1.2" fill="none" stroke-dasharray="1.2 3.3" stroke-linecap="butt"/>
<circle cx="1004.0" cy="299.0" r="3.6" fill="#fff" stroke="#231815" stroke-width="0.9"/>
<circle cx="1004.0" cy="299.0" r="2.0" fill="none" stroke="#231815" stroke-width="0.8"/>
<circle cx="1004.0" cy="299.0" r="0.7" fill="#231815" stroke="none" stroke-width="0"/>
<circle cx="945.3" cy="315.9" r="3.6" fill="#fff" stroke="#231815" stroke-width="0.9"/>
<circle cx="945.3" cy="315.9" r="2.0" fill="none" stroke="#231815" stroke-width="0.8"/>
<circle cx="945.3" cy="315.9" r="0.7" fill="#231815" stroke="none" stroke-width="0"/>
<path d="M1005.6,302.4 L1011.2,309.2 M1007.0,301.4 L1012.4,308.2" stroke="#231815" stroke-width="0.8" fill="none" />
<path d="M947.0,319.2 L952.4,324.0 M948.2,318.0 L953.4,322.6" stroke="#231815" stroke-width="0.8" fill="none" />
<path d="M953,322.4 C953.5,317.5 965,317.5 965.6,322.4 Z" stroke="#231815" stroke-width="1.0" fill="#fff" />
<path d="M952.2,322.4 L966.2,322.4 L966.2,324.1 L952.2,324.1 Z" stroke="#231815" stroke-width="1.0" fill="#fff" />
<path d="M957,320 L959.3,321.6 L961.6,320" stroke="#231815" stroke-width="0.7" fill="none" />
<path d="M953.5,328 L953.5,324.1 L979.4,324.1" stroke="#231815" stroke-width="1.0" fill="none" />
<path d="M979.4,328 L947.3,328 L947.3,357.6 L979.4,357.6" stroke="#231815" stroke-width="1.0" fill="none" />
<rect x="937.1" y="328" width="9" height="29.6" rx="3.2" ry="3.2" fill="none" stroke="#231815" stroke-width="1.0"/>
<path d="M938.2,336.2 C940,335.2 943.4,335.2 945.2,336.2 M938.2,349.6 C940,350.6 943.4,350.6 945.2,349.6 M938.2,331 L938.2,354.6 M945.2,331 L945.2,354.6" stroke="#231815" stroke-width="0.8" fill="none" />
<path d="M979.4,316.6 L979.4,328 C984,337 984,348.6 979.4,357.6 L979.4,370.3 L1041.9,370.3 L1041.9,358.8" stroke="#231815" stroke-width="1.0" fill="none" />
<path d="M979.4,370.3 L992.6,384.2 M1041.9,370.3 L1028.6,384.2 M990.2,370.3 L995.8,384.2 M1023.8,370.3 L1019.2,384.2" stroke="#231815" stroke-width="1.0" fill="none" />
<rect x="992.6" y="384.2" width="36" height="19.5" fill="none" stroke="#231815" stroke-width="1.0"/>
<path d="M995.8,384.2 L995.8,403.7 M1019.2,384.2 L1019.2,403.7" stroke="#231815" stroke-width="1.0" fill="none" />
<rect x="1020.4" y="387.4" width="7.2" height="12.7" fill="none" stroke="#231815" stroke-width="1.0"/>
<circle cx="1023.5" cy="393.9" r="1.1" fill="#231815" stroke="none" stroke-width="0"/>
<path d="M994.9,360.5 L1003.7,368.3 L1003.7,567.4 M1019,360.5 L1013.6,367.4 L1013.6,567.4" stroke="#231815" stroke-width="1.0" fill="none" />
<path d="M999.4,403.7 L999.4,567.2 C1003,569.6 1006,565.6 1010,567.2 C1014,568.8 1016.5,568.6 1019.6,566.6 L1019.6,403.7" stroke="#231815" stroke-width="1.0" fill="none" />
<path d="M999.4,574.0 C1002,571.0 1006,572.6 1010,573.6 C1014,574.6 1017,573.8 1019.6,571.6 L1019.6,640 C1019.6,653 999.4,653 999.4,640 Z" stroke="#231815" stroke-width="1.0" fill="none" />
<path d="M1003.7,572.4 L1003.7,630 M1013.6,574.2 L1013.6,630" stroke="#231815" stroke-width="1.0" fill="none" />
<path d="M1002.6,629.2 L1008.6,640.4 L1013.6,629.2" stroke="#231815" stroke-width="2.5" fill="none" stroke-linejoin="miter"/>
<path d="M999.4,569.2 C1003,571.6 1006,567.6 1010,569.2 C1014,570.8 1016.5,570.6 1019.6,568.6" stroke="#231815" stroke-width="1.0" fill="none" />
<g transform="translate(976.5,301.5) rotate(33.82)" fill="none" stroke="#231815" stroke-width="1.0">
<rect x="0" y="0" width="96.3" height="10.9" fill="#fff"/>
<line x1="0" y1="2.0" x2="96.3" y2="2.0"/>
<path d="M10,10.9 L10,4.6 C10,3.0 11.2,2.0 13,2.0 M16.5,2.0 C18.3,2.0 19.5,3.0 19.5,4.6 L19.5,10.9"/>
<path d="M30,10.9 L30,4.6 C30,3.0 31.2,2.0 33,2.0 M39.3,2.0 C41.099999999999994,2.0 42.3,3.0 42.3,4.6 L42.3,10.9"/>
<path d="M55.2,10.9 L55.2,4.6 C55.2,3.0 56.400000000000006,2.0 58.2,2.0 M64,2.0 C65.8,2.0 67,3.0 67,4.6 L67,10.9"/>
<path d="M78.4,10.9 L78.4,4.6 C78.4,3.0 79.60000000000001,2.0 81.4,2.0 M84,2.0 C85.8,2.0 87,3.0 87,4.6 L87,10.9"/>
<line x1="4.5" y1="0" x2="4.5" y2="10.9"/>
<line x1="93.3" y1="0" x2="93.3" y2="10.9"/>
<path d="M7,0 C8,-4 11,-8.2 17,-8.5 C30,-10.8 52,-11.2 77,-8.8 C84,-8.2 89,-4.5 90,0" />
<path d="M14.5,-6.8 C30,-9.0 52,-9.4 76,-7.0 C82,-6.5 86,-3.5 87,0" />
<rect x="50.8" y="-13.9" width="12.7" height="3.3" fill="#fff"/>
<path d="M33.1,-10.7 L34.6,-13.6 L43.8,-13.6 L45.2,-10.6" fill="#fff"/>
<rect x="32.6" y="-15.2" width="13.2" height="1.6" fill="#fff"/>
<path d="M33.6,-15.2 C33.6,-22 45.2,-22 45.2,-15.2 Z" fill="#fff"/>
<path d="M37,-19.2 L39.4,-17 L41.8,-19.2" stroke-width="0.7"/>
</g>
<circle cx="994.9" cy="360.7" r="2.5" fill="#231815" stroke="none" stroke-width="0"/>
<circle cx="1019" cy="360.7" r="2.5" fill="#231815" stroke="none" stroke-width="0"/>
<line x1="35" y1="35.3" x2="1080" y2="35.3" stroke="#e60012" stroke-width="2.2" />
<line x1="35" y1="70.6" x2="1080" y2="70.6" stroke="#231815" stroke-width="2.2" />
<path d="M67.9,35.3 L67.9,613.8 L577.7,613.8 L577.7,280.5 L758.8,280.5" stroke="#e60012" stroke-width="2.2" fill="none" />
<path d="M188.2,35.3 L188.2,322.8 L247,322.8" stroke="#e60012" stroke-width="2.2" fill="none" />
<path d="M265,269.8 L265,185.6 L705.2,185.6 L705.2,254.9 L758.8,254.9" stroke="#e60012" stroke-width="2.2" fill="none" />
<path d="M156.2,494.4 L156.2,536.8 L258.2,536.8 L258.2,489.5" stroke="#e60012" stroke-width="2.2" fill="none" />
<line x1="547.5" y1="507.9" x2="577.7" y2="507.9" stroke="#e60012" stroke-width="2.2" />
<path d="M96.2,70.6 L96.2,588.6 L456.8,588.6 L456.8,204.4 L381.6,204.4 L381.6,270" stroke="#231815" stroke-width="2.2" fill="none" />
<line x1="160.0" y1="70.6" x2="160.0" y2="349.3" stroke="#231815" stroke-width="2.2" />
<line x1="456.8" y1="533.9" x2="538" y2="533.9" stroke="#231815" stroke-width="2.2" />
<path d="M793,508.2 L852.0,508.2 L852.0,339.4 L1000.6,339.4 L1019,360.4" stroke="#e4007f" stroke-width="2.2" fill="none" stroke-linejoin="round"/>
<path d="M793,533.5 L866.2,533.5 L866.2,347.1 L991.2,347.1 L994.9,360.2" stroke="#00a0e9" stroke-width="2.2" fill="none" stroke-linejoin="round"/>
<circle cx="67.9" cy="35.3" r="5.7" fill="#e60012" stroke="none" stroke-width="0"/>
<circle cx="188.2" cy="35.3" r="5.7" fill="#e60012" stroke="none" stroke-width="0"/>
<circle cx="96.2" cy="70.6" r="5.6" fill="#231815" stroke="none" stroke-width="0"/>
<circle cx="160.0" cy="70.6" r="5.6" fill="#231815" stroke="none" stroke-width="0"/>
<circle cx="456.6" cy="534.0" r="5.0" fill="#231815" stroke="none" stroke-width="0"/>
<circle cx="577.7" cy="508.2" r="5.7" fill="#e60012" stroke="none" stroke-width="0"/>
<path d="M620.5,573.5 L620.5,565.4 L629.4,565.4 M957.2,573.5 L957.2,565.4 L948.3,565.4 M620.5,669.0 L620.5,677.0 L629.4,677.0 M957.2,669.0 L957.2,677.0 L948.3,677.0" stroke="#767676" stroke-width="1.6" fill="none" />
<line x1="646.2" y1="565.4" x2="663.0" y2="565.4" stroke="#767676" stroke-width="1.6" />
<line x1="646.2" y1="677.0" x2="663.0" y2="677.0" stroke="#767676" stroke-width="1.6" />
<line x1="679.6" y1="565.4" x2="696.4" y2="565.4" stroke="#767676" stroke-width="1.6" />
<line x1="679.6" y1="677.0" x2="696.4" y2="677.0" stroke="#767676" stroke-width="1.6" />
<line x1="713.0" y1="565.4" x2="729.8" y2="565.4" stroke="#767676" stroke-width="1.6" />
<line x1="713.0" y1="677.0" x2="729.8" y2="677.0" stroke="#767676" stroke-width="1.6" />
<line x1="746.5" y1="565.4" x2="763.3" y2="565.4" stroke="#767676" stroke-width="1.6" />
<line x1="746.5" y1="677.0" x2="763.3" y2="677.0" stroke="#767676" stroke-width="1.6" />
<line x1="779.9" y1="565.4" x2="796.7" y2="565.4" stroke="#767676" stroke-width="1.6" />
<line x1="779.9" y1="677.0" x2="796.7" y2="677.0" stroke="#767676" stroke-width="1.6" />
<line x1="813.3" y1="565.4" x2="830.1" y2="565.4" stroke="#767676" stroke-width="1.6" />
<line x1="813.3" y1="677.0" x2="830.1" y2="677.0" stroke="#767676" stroke-width="1.6" />
<line x1="846.7" y1="565.4" x2="863.5" y2="565.4" stroke="#767676" stroke-width="1.6" />
<line x1="846.7" y1="677.0" x2="863.5" y2="677.0" stroke="#767676" stroke-width="1.6" />
<line x1="880.1" y1="565.4" x2="896.9" y2="565.4" stroke="#767676" stroke-width="1.6" />
<line x1="880.1" y1="677.0" x2="896.9" y2="677.0" stroke="#767676" stroke-width="1.6" />
<line x1="913.6" y1="565.4" x2="930.4" y2="565.4" stroke="#767676" stroke-width="1.6" />
<line x1="913.6" y1="677.0" x2="930.4" y2="677.0" stroke="#767676" stroke-width="1.6" />
<line x1="620.5" y1="592.3" x2="620.5" y2="611.9" stroke="#767676" stroke-width="1.6" />
<line x1="957.2" y1="592.3" x2="957.2" y2="611.9" stroke="#767676" stroke-width="1.6" />
<line x1="620.5" y1="630.6" x2="620.5" y2="650.2" stroke="#767676" stroke-width="1.6" />
<line x1="957.2" y1="630.6" x2="957.2" y2="650.2" stroke="#767676" stroke-width="1.6" />
<path d="M644.7,597.5 L689.2,597.5 L689.2,619.2 L644.7,619.2 M661.3,597.5 L661.3,619.2 M667.0,597.5 L667.0,619.2" stroke="#231815" stroke-width="1.3" fill="none" />
<ellipse cx="678.1" cy="608.35" rx="11.400000000000023" ry="10.850000000000023" fill="#fff" stroke="#231815" stroke-width="1.3"/>
<path d="M666.90,606.35 L676.10,606.35 L676.10,597.67 M666.90,610.35 L676.10,610.35 L676.10,619.03 M689.30,606.35 L680.10,606.35 L680.10,597.67 M689.30,610.35 L680.10,610.35 L680.10,619.03 " stroke="#231815" stroke-width="1.3" fill="none" />
<text transform="translate(652.3,612.65) scale(0.9,1)" font-family='"Liberation Sans",sans-serif' font-size="12.3" font-weight="700" fill="#231815" text-anchor="middle" stroke="#231815" stroke-width="0.35">23</text>
<path d="M644.7,623.3 L689.2,623.3 L689.2,645.3 L644.7,645.3 M661.3,623.3 L661.3,645.3 M667.0,623.3 L667.0,645.3" stroke="#231815" stroke-width="1.3" fill="none" />
<ellipse cx="678.1" cy="634.3" rx="11.400000000000023" ry="11.0" fill="#fff" stroke="#231815" stroke-width="1.3"/>
<path d="M666.89,632.30 L676.10,632.30 L676.10,623.47 M666.89,636.30 L676.10,636.30 L676.10,645.13 M689.31,632.30 L680.10,632.30 L680.10,623.47 M689.31,636.30 L680.10,636.30 L680.10,645.13 " stroke="#231815" stroke-width="1.3" fill="none" />
<text transform="translate(652.3,638.5999999999999) scale(0.9,1)" font-family='"Liberation Sans",sans-serif' font-size="12.3" font-weight="700" fill="#231815" text-anchor="middle" stroke="#231815" stroke-width="0.35">24</text>
<path d="M689.2,609.7 L697.5,609.7 L704.6,622" stroke="#231815" stroke-width="1.2" fill="none" />
<path d="M689.2,632.8 L697.8,632.8" stroke="#231815" stroke-width="1.2" fill="none" />
<path d="M697.4,633 L704.6,622" stroke="#231815" stroke-width="2.4" fill="none" />
<text x="696.4" y="608.3" font-family='"Liberation Sans",sans-serif' font-size="15.5" font-weight="400" fill="#231815" text-anchor="middle" >+</text>
<text x="696.9" y="643.6" font-family='"Liberation Sans",sans-serif' font-size="16" font-weight="400" fill="#231815" text-anchor="middle" >-</text>
<text transform="translate(709.0,627.4) scale(0.8,1)" font-family='"Liberation Sans",sans-serif' font-size="12.3" font-weight="400" fill="#231815" text-anchor="start" stroke="#231815" stroke-width="0.3">TC/mV</text>
<text x="645.5" y="587.0" font-family='"Liberation Sans","Noto Sans CJK SC",sans-serif' font-size="13.9" font-weight="400" fill="#231815" text-anchor="start" stroke="#231815" stroke-width="0.25">热电偶输入</text>
<path d="M750.2,594.1 L791.5,594.1 L791.5,613.7 L750.2,613.7 M766.0,594.1 L766.0,613.7 M771.5,594.1 L771.5,613.7" stroke="#231815" stroke-width="1.3" fill="none" />
<ellipse cx="781.5" cy="603.9000000000001" rx="10.3" ry="9.800000000000011" fill="#fff" stroke="#231815" stroke-width="1.3"/>
<path d="M771.42,601.90 L779.50,601.90 L779.50,594.29 M771.42,605.90 L779.50,605.90 L779.50,613.51 M791.58,601.90 L783.50,601.90 L783.50,594.29 M791.58,605.90 L783.50,605.90 L783.50,613.51 " stroke="#231815" stroke-width="1.3" fill="none" />
<text transform="translate(758.3,608.2) scale(0.9,1)" font-family='"Liberation Sans",sans-serif' font-size="11.5" font-weight="700" fill="#231815" text-anchor="middle" stroke="#231815" stroke-width="0.35">25</text>
<path d="M750.2,617.5 L791.5,617.5 L791.5,637.1 L750.2,637.1 M766.0,617.5 L766.0,637.1 M771.5,617.5 L771.5,637.1" stroke="#231815" stroke-width="1.3" fill="none" />
<ellipse cx="781.5" cy="627.3" rx="10.3" ry="9.800000000000011" fill="#fff" stroke="#231815" stroke-width="1.3"/>
<path d="M771.42,625.30 L779.50,625.30 L779.50,617.69 M771.42,629.30 L779.50,629.30 L779.50,636.91 M791.58,625.30 L783.50,625.30 L783.50,617.69 M791.58,629.30 L783.50,629.30 L783.50,636.91 " stroke="#231815" stroke-width="1.3" fill="none" />
<text transform="translate(758.3,631.5999999999999) scale(0.9,1)" font-family='"Liberation Sans",sans-serif' font-size="11.5" font-weight="700" fill="#231815" text-anchor="middle" stroke="#231815" stroke-width="0.35">26</text>
<path d="M791.5,600 L805.2,600 M807.8,601.2 L821.4,615.9 M791.5,627.1 L809.8,627.1 L809.8,617.0" stroke="#231815" stroke-width="1.2" fill="none" />
<circle cx="806.7" cy="600" r="1.5" fill="#fff" stroke="#231815" stroke-width="1.0"/>
<circle cx="809.8" cy="615.5" r="1.5" fill="#fff" stroke="#231815" stroke-width="1.0"/>
<text transform="translate(799.2,619.8) scale(0.78,1)" font-family='"Liberation Sans",sans-serif' font-size="9.8" font-weight="700" fill="#231815" text-anchor="middle" stroke="#231815" stroke-width="0.15">NO</text>
<text transform="translate(826.8,621.8) scale(0.72,1)" font-family='"Liberation Sans",sans-serif' font-size="13" font-weight="400" fill="#231815" text-anchor="start" stroke="#231815" stroke-width="0.3" letter-spacing="0.4">OUT</text>
<text x="748.7" y="585.4" font-family='"Liberation Sans","Noto Sans CJK SC",sans-serif' font-size="13.9" font-weight="400" fill="#231815" text-anchor="start" stroke="#231815" stroke-width="0.25">控制输出</text>
<path d="M871.0,595.1 L913.5,595.1 L913.5,615.8 L871.0,615.8 M887.6,595.1 L887.6,615.8 M893.3,595.1 L893.3,615.8" stroke="#231815" stroke-width="1.3" fill="none" />
<ellipse cx="903.4" cy="605.45" rx="10.400000000000023" ry="10.349999999999966" fill="#fff" stroke="#231815" stroke-width="1.3"/>
<path d="M893.20,603.45 L901.40,603.45 L901.40,595.29 M893.20,607.45 L901.40,607.45 L901.40,615.61 M913.60,603.45 L905.40,603.45 L905.40,595.29 M913.60,607.45 L905.40,607.45 L905.40,615.61 " stroke="#231815" stroke-width="1.3" fill="none" />
<text transform="translate(879.5,609.75) scale(0.9,1)" font-family='"Liberation Sans",sans-serif' font-size="11.5" font-weight="700" fill="#231815" text-anchor="middle" stroke="#231815" stroke-width="0.35">11</text>
<path d="M871.0,620.0 L913.5,620.0 L913.5,640.9 L871.0,640.9 M887.6,620.0 L887.6,640.9 M893.3,620.0 L893.3,640.9" stroke="#231815" stroke-width="1.3" fill="none" />
<ellipse cx="903.4" cy="630.45" rx="10.400000000000023" ry="10.449999999999989" fill="#fff" stroke="#231815" stroke-width="1.3"/>
<path d="M893.19,628.45 L901.40,628.45 L901.40,620.20 M893.19,632.45 L901.40,632.45 L901.40,640.70 M913.61,628.45 L905.40,628.45 L905.40,620.20 M913.61,632.45 L905.40,632.45 L905.40,640.70 " stroke="#231815" stroke-width="1.3" fill="none" />
<text transform="translate(879.5,634.75) scale(0.9,1)" font-family='"Liberation Sans",sans-serif' font-size="11.5" font-weight="700" fill="#231815" text-anchor="middle" stroke="#231815" stroke-width="0.35">12</text>
<line x1="913.5" y1="606.8" x2="936.4" y2="606.8" stroke="#231815" stroke-width="1.2" />
<line x1="913.5" y1="630.7" x2="936.4" y2="630.7" stroke="#231815" stroke-width="1.2" />
<circle cx="938.5" cy="606.8" r="2.0" fill="#fff" stroke="#231815" stroke-width="1.1"/>
<circle cx="938.5" cy="630.7" r="2.0" fill="#fff" stroke="#231815" stroke-width="1.1"/>
<text transform="translate(926.8,603.6) scale(0.85,1)" font-family='"Liberation Sans",sans-serif' font-size="12" font-weight="400" fill="#231815" text-anchor="middle" stroke="#231815" stroke-width="0.3">L</text>
<text transform="translate(926.8,644.8) scale(0.8,1)" font-family='"Liberation Sans",sans-serif' font-size="12" font-weight="700" fill="#231815" text-anchor="middle" >N</text>
<text x="869.8" y="584.4" font-family='"Liberation Sans","Noto Sans CJK SC",sans-serif' font-size="13.9" font-weight="400" fill="#231815" text-anchor="start" stroke="#231815" stroke-width="0.25">工作电源</text>
<text x="8.6" y="17.4" font-family='"Liberation Sans","Noto Sans CJK SC",sans-serif' font-size="17.2" font-weight="400" fill="#231815" text-anchor="start" stroke="#231815" stroke-width="0.25">电源端</text>
<text transform="translate(10.6,39.8) scale(0.84,1)" font-family='"Liberation Sans",sans-serif' font-size="17.2" font-weight="700" fill="#e60012" text-anchor="start" >L</text>
<text transform="translate(10.6,76.9) scale(0.7,1)" font-family='"Liberation Sans",sans-serif' font-size="17.2" font-weight="700" fill="#231815" text-anchor="start" >N</text>
<text x="135.2" y="558.3" font-family='"Liberation Sans","Noto Sans CJK SC",sans-serif' font-size="17.2" font-weight="400" fill="#231815" text-anchor="start" stroke="#231815" stroke-width="0.25">电加热</text>
<text x="484.6" y="559.9" font-family='"Liberation Sans","Noto Sans CJK SC",sans-serif' font-size="17.2" font-weight="400" fill="#231815" text-anchor="start" stroke="#231815" stroke-width="0.25">仪表供电</text>
<text x="951.0" y="281.5" font-family='"Liberation Sans","Noto Sans CJK SC",sans-serif' font-size="17.2" font-weight="400" fill="#231815" text-anchor="start" stroke="#231815" stroke-width="0.25">热电偶</text>
<text transform="translate(1012.0,281.9) scale(0.68,1)" font-family='"Liberation Sans",sans-serif' font-size="17.3" font-weight="700" fill="#231815" text-anchor="start" >TC</text>
<text transform="translate(832.0,504.8) scale(0.83,1)" font-family='"Liberation Sans",sans-serif' font-size="13.2" font-weight="400" fill="#231815" text-anchor="start" stroke="#231815" stroke-width="0.3">A+</text>
<text transform="translate(833.2,546.8) scale(0.83,1)" font-family='"Liberation Sans",sans-serif' font-size="13.2" font-weight="400" fill="#231815" text-anchor="start" stroke="#231815" stroke-width="0.3">B−</text>
<text x="873.5" y="527.3" font-family='"Liberation Sans","Noto Sans CJK SC",sans-serif' font-size="17.0" font-weight="400" fill="#231815" text-anchor="start" stroke="#231815" stroke-width="0.25">信号输入</text>
<line x1="-12.0" y1="730" x2="11.0" y2="730" stroke="#9a9a9a" stroke-width="1.6" />
<line x1="37.1" y1="730" x2="60.1" y2="730" stroke="#9a9a9a" stroke-width="1.6" />
<line x1="86.2" y1="730" x2="109.2" y2="730" stroke="#9a9a9a" stroke-width="1.6" />
<line x1="135.4" y1="730" x2="158.4" y2="730" stroke="#9a9a9a" stroke-width="1.6" />
<line x1="184.5" y1="730" x2="207.5" y2="730" stroke="#9a9a9a" stroke-width="1.6" />
<line x1="233.6" y1="730" x2="256.6" y2="730" stroke="#9a9a9a" stroke-width="1.6" />
<line x1="282.7" y1="730" x2="305.7" y2="730" stroke="#9a9a9a" stroke-width="1.6" />
<line x1="331.8" y1="730" x2="354.8" y2="730" stroke="#9a9a9a" stroke-width="1.6" />
<line x1="381.0" y1="730" x2="404.0" y2="730" stroke="#9a9a9a" stroke-width="1.6" />
<line x1="430.1" y1="730" x2="453.1" y2="730" stroke="#9a9a9a" stroke-width="1.6" />
<line x1="479.2" y1="730" x2="502.2" y2="730" stroke="#9a9a9a" stroke-width="1.6" />
<line x1="528.3" y1="730" x2="551.3" y2="730" stroke="#9a9a9a" stroke-width="1.6" />
<line x1="577.4" y1="730" x2="600.4" y2="730" stroke="#9a9a9a" stroke-width="1.6" />
<line x1="626.6" y1="730" x2="649.6" y2="730" stroke="#9a9a9a" stroke-width="1.6" />
<line x1="675.7" y1="730" x2="698.7" y2="730" stroke="#9a9a9a" stroke-width="1.6" />
<line x1="724.8" y1="730" x2="747.8" y2="730" stroke="#9a9a9a" stroke-width="1.6" />
<line x1="773.9" y1="730" x2="796.9" y2="730" stroke="#9a9a9a" stroke-width="1.6" />
<line x1="823.0" y1="730" x2="846.0" y2="730" stroke="#9a9a9a" stroke-width="1.6" />
<line x1="872.2" y1="730" x2="895.2" y2="730" stroke="#9a9a9a" stroke-width="1.6" />
<line x1="921.3" y1="730" x2="944.3" y2="730" stroke="#9a9a9a" stroke-width="1.6" />
<line x1="970.4" y1="730" x2="993.4" y2="730" stroke="#9a9a9a" stroke-width="1.6" />
<line x1="1019.5" y1="730" x2="1042.5" y2="730" stroke="#9a9a9a" stroke-width="1.6" />
<line x1="1068.6" y1="730" x2="1091.6" y2="730" stroke="#9a9a9a" stroke-width="1.6" />
<circle cx="32" cy="775" r="6.6" fill="#e60012" stroke="none" stroke-width="0"/>
<text x="60.2" y="790.6" font-family='"Liberation Sans","Noto Sans CJK SC",sans-serif' font-size="36.0" font-weight="350" fill="#000" text-anchor="start" >二线制压力变送器输入模拟量输出控制电路</text>
<text x="61.4" y="837.4" font-family='"Liberation Sans","Noto Sans CJK SC",sans-serif' font-size="26.3" font-weight="500" fill="#000" text-anchor="start" letter-spacing="0.66">此电路为简易示意图，不含电气保护，具体布线请在专业电工指导下进行；</text>
</svg>
</body>
</html>
